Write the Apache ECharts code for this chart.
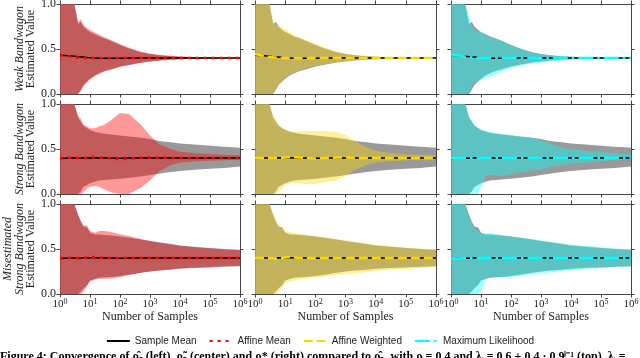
<!DOCTYPE html>
<html><head><meta charset="utf-8">
<script src="https://cdn.jsdelivr.net/npm/echarts@6/dist/echarts.min.js"></script>
<style>html,body{margin:0;padding:0;background:#fff}#c{width:640px;height:358px}</style>
</head><body><div id="c"></div>
<script>
// ---------- data ----------
const samples = [1, 2, 3, 4, 5, 6, 8, 10, 15, 20, 30, 50, 100, 200, 500, 1000, 2000, 5000, 10000, 30000, 100000, 300000, 1000000];
const xTickExponents = [0, 1, 2, 3, 4, 5, 6];
const yTicks = [0.0, 0.5, 1.0];
const rowLabels = [['Weak Bandwagon'], ['Strong Bandwagon'], ['Misestimated', 'Strong Bandwagon']];
const estimatorNames = ['Affine Mean', 'Affine Weighted', 'Maximum Likelihood'];

// sample mean (black) per row
const weakSampleMean   = [0.43, 0.425, 0.42, 0.415, 0.41, 0.41, 0.405, 0.402, 0.40, 0.398, 0.397, 0.397, 0.398, 0.399, 0.40, 0.40, 0.40, 0.40, 0.40, 0.40, 0.40, 0.40, 0.40];
const strongSampleMean = [0.395, 0.40, 0.40, 0.397, 0.40, 0.403, 0.40, 0.40, 0.404, 0.40, 0.40, 0.40, 0.398, 0.40, 0.40, 0.40, 0.40, 0.40, 0.40, 0.40, 0.40, 0.40, 0.40];
const misSampleMean    = [0.395, 0.40, 0.40, 0.398, 0.40, 0.402, 0.40, 0.402, 0.404, 0.40, 0.40, 0.40, 0.398, 0.40, 0.40, 0.40, 0.40, 0.40, 0.40, 0.40, 0.40, 0.40, 0.40];

// estimator means
const weakAffineMean     = [0.43, 0.42, 0.41, 0.405, 0.40, 0.40, 0.40, 0.40, 0.398, 0.397, 0.397, 0.398, 0.399, 0.40, 0.40, 0.40, 0.40, 0.40, 0.40, 0.40, 0.40, 0.40, 0.40];
const weakAffineWeighted = [0.444, 0.42, 0.412, 0.408, 0.405, 0.403, 0.40, 0.40, 0.398, 0.398, 0.398, 0.399, 0.40, 0.40, 0.40, 0.40, 0.40, 0.40, 0.40, 0.40, 0.40, 0.40, 0.40];
const weakMaxLik         = [0.44, 0.425, 0.415, 0.41, 0.405, 0.402, 0.40, 0.40, 0.399, 0.399, 0.40, 0.40, 0.40, 0.40, 0.40, 0.40, 0.40, 0.40, 0.40, 0.40, 0.40, 0.40, 0.40];
const strongAffineMean     = [0.396, 0.404, 0.404, 0.40, 0.40, 0.396, 0.40, 0.408, 0.41, 0.407, 0.40, 0.396, 0.385, 0.392, 0.405, 0.407, 0.404, 0.40, 0.40, 0.40, 0.40, 0.40, 0.40];
const strongAffineWeighted = [0.40, 0.40, 0.40, 0.40, 0.40, 0.40, 0.402, 0.405, 0.41, 0.408, 0.405, 0.40, 0.395, 0.40, 0.405, 0.405, 0.40, 0.40, 0.40, 0.40, 0.40, 0.40, 0.40];
const strongMaxLik         = [0.40, 0.40, 0.40, 0.40, 0.40, 0.40, 0.40, 0.40, 0.40, 0.40, 0.40, 0.40, 0.40, 0.40, 0.40, 0.40, 0.40, 0.40, 0.40, 0.40, 0.40, 0.40, 0.40];
const misAffineMean     = [0.40, 0.40, 0.40, 0.398, 0.398, 0.40, 0.405, 0.41, 0.41, 0.408, 0.40, 0.40, 0.398, 0.40, 0.40, 0.40, 0.40, 0.40, 0.40, 0.40, 0.40, 0.40, 0.40];
const misAffineWeighted = [0.40, 0.40, 0.40, 0.398, 0.395, 0.396, 0.40, 0.408, 0.41, 0.405, 0.40, 0.40, 0.398, 0.40, 0.40, 0.40, 0.40, 0.40, 0.40, 0.40, 0.40, 0.40, 0.40];
const misMaxLik         = [0.395, 0.398, 0.40, 0.40, 0.40, 0.40, 0.40, 0.40, 0.402, 0.40, 0.40, 0.40, 0.40, 0.40, 0.40, 0.40, 0.40, 0.40, 0.40, 0.40, 0.40, 0.40, 0.40];

// sample-mean (gray) bands per row
const weakGrayHigh   = [1, 1, 1, 0.78, 0.80, 0.75, 0.71, 0.69, 0.66, 0.64, 0.62, 0.59, 0.545, 0.505, 0.465, 0.445, 0.43, 0.42, 0.415, 0.408, 0.405, 0.402, 0.401];
const weakGrayLow    = [0, 0, 0, 0, 0.05, 0.10, 0.14, 0.17, 0.21, 0.23, 0.255, 0.275, 0.305, 0.325, 0.35, 0.362, 0.372, 0.382, 0.387, 0.392, 0.395, 0.398, 0.399];
const strongGrayHigh = [1, 1, 1, 0.85, 0.80, 0.76, 0.73, 0.71, 0.69, 0.68, 0.67, 0.66, 0.65, 0.64, 0.625, 0.61, 0.59, 0.575, 0.56, 0.55, 0.535, 0.525, 0.515];
const strongGrayLow  = [0, 0, 0, 0, 0.03, 0.08, 0.10, 0.12, 0.14, 0.15, 0.155, 0.16, 0.17, 0.18, 0.195, 0.21, 0.225, 0.245, 0.255, 0.27, 0.28, 0.29, 0.305];
const misGrayHigh    = [1, 1, 1, 0.88, 0.80, 0.75, 0.74, 0.68, 0.66, 0.66, 0.655, 0.65, 0.64, 0.625, 0.605, 0.59, 0.575, 0.555, 0.54, 0.525, 0.51, 0.50, 0.492];
const misGrayLow     = [0, 0, 0, 0, 0.03, 0.06, 0.10, 0.15, 0.17, 0.18, 0.185, 0.19, 0.20, 0.215, 0.235, 0.25, 0.26, 0.27, 0.28, 0.29, 0.295, 0.302, 0.308];

// estimator bands
const weakAmHigh = [1, 1, 1, 0.80, 0.83, 0.77, 0.73, 0.71, 0.68, 0.66, 0.63, 0.60, 0.555, 0.515, 0.47, 0.45, 0.435, 0.425, 0.418, 0.41, 0.406, 0.403, 0.402];
const weakAmLow  = [0, 0, 0, 0, 0.03, 0.08, 0.13, 0.16, 0.20, 0.22, 0.25, 0.27, 0.30, 0.32, 0.345, 0.36, 0.37, 0.38, 0.385, 0.39, 0.394, 0.397, 0.398];
const weakAwHigh = [1, 1, 1, 0.80, 0.77, 0.76, 0.74, 0.72, 0.68, 0.655, 0.63, 0.60, 0.56, 0.52, 0.475, 0.45, 0.435, 0.422, 0.415, 0.408, 0.404, 0.402, 0.401];
const weakAwLow  = [0, 0, 0, 0, 0.06, 0.10, 0.14, 0.18, 0.22, 0.24, 0.26, 0.285, 0.315, 0.33, 0.35, 0.362, 0.372, 0.382, 0.387, 0.392, 0.395, 0.398, 0.399];
const weakMlHigh = [1, 1, 1, 0.86, 0.75, 0.71, 0.70, 0.69, 0.65, 0.63, 0.615, 0.595, 0.54, 0.505, 0.46, 0.44, 0.43, 0.42, 0.413, 0.407, 0.404, 0.402, 0.401];
const weakMlLow  = [0, 0, 0, 0, 0.10, 0.12, 0.14, 0.155, 0.18, 0.19, 0.22, 0.25, 0.29, 0.315, 0.335, 0.345, 0.36, 0.375, 0.383, 0.39, 0.394, 0.397, 0.399];
const strongAmHigh = [1, 1, 1, 0.87, 0.83, 0.77, 0.75, 0.73, 0.73, 0.75, 0.77, 0.82, 0.90, 0.89, 0.77, 0.65, 0.555, 0.50, 0.47, 0.455, 0.445, 0.437, 0.43];
const strongAmLow  = [0, 0, 0, 0, 0, 0.02, 0.06, 0.08, 0.09, 0.08, 0.05, 0.02, 0, 0, 0.07, 0.15, 0.25, 0.32, 0.35, 0.36, 0.37, 0.375, 0.38];
const strongAwHigh = [1, 1, 1, 0.86, 0.83, 0.76, 0.73, 0.72, 0.70, 0.695, 0.695, 0.70, 0.70, 0.70, 0.69, 0.655, 0.59, 0.52, 0.48, 0.455, 0.44, 0.435, 0.43];
const strongAwLow  = [0, 0, 0, 0, 0, 0.02, 0.06, 0.10, 0.12, 0.12, 0.12, 0.11, 0.11, 0.13, 0.15, 0.20, 0.27, 0.32, 0.35, 0.365, 0.375, 0.38, 0.385];
const strongMlHigh = [1, 1, 1, 0.86, 0.81, 0.77, 0.735, 0.715, 0.70, 0.69, 0.68, 0.67, 0.655, 0.64, 0.625, 0.60, 0.56, 0.52, 0.50, 0.48, 0.465, 0.452, 0.442];
const strongMlLow  = [0, 0, 0, 0, 0, 0, 0, 0.08, 0.20, 0.21, 0.205, 0.20, 0.22, 0.24, 0.26, 0.27, 0.30, 0.32, 0.34, 0.35, 0.365, 0.38, 0.39];
const misAmHigh = [1, 1, 1, 0.88, 0.81, 0.76, 0.76, 0.70, 0.68, 0.70, 0.70, 0.69, 0.665, 0.645, 0.61, 0.59, 0.57, 0.55, 0.535, 0.52, 0.505, 0.495, 0.485];
const misAmLow  = [0, 0, 0, 0, 0, 0.02, 0.09, 0.14, 0.16, 0.17, 0.17, 0.17, 0.19, 0.21, 0.235, 0.25, 0.26, 0.275, 0.285, 0.295, 0.30, 0.31, 0.315];
const misAwHigh = [1, 1, 1, 0.88, 0.81, 0.76, 0.74, 0.70, 0.69, 0.68, 0.67, 0.66, 0.645, 0.63, 0.61, 0.595, 0.58, 0.562, 0.548, 0.533, 0.518, 0.505, 0.495];
const misAwLow  = [0, 0, 0, 0, 0, 0.02, 0.07, 0.12, 0.14, 0.15, 0.16, 0.17, 0.18, 0.195, 0.21, 0.22, 0.23, 0.245, 0.255, 0.27, 0.28, 0.29, 0.30];
const misMlHigh = [1, 1, 1, 0.86, 0.79, 0.73, 0.70, 0.67, 0.67, 0.68, 0.67, 0.655, 0.64, 0.625, 0.61, 0.595, 0.58, 0.563, 0.548, 0.535, 0.52, 0.505, 0.493];
const misMlLow  = [0, 0, 0, 0, 0, 0, 0, 0.03, 0.18, 0.18, 0.185, 0.19, 0.19, 0.20, 0.22, 0.23, 0.24, 0.255, 0.265, 0.28, 0.29, 0.30, 0.306];

// ---------- layout / styles ----------
const gridLefts = [60, 255, 451];
const gridWidths = [180, 181, 180];
const gridTops = [4, 104, 204];
const gridH = 90;
const estColors = ['#ff0000', '#ffd700', '#00ffff'];
const estBand = ['rgba(255,0,0,0.4)', 'rgba(255,215,0,0.4)', 'rgba(0,255,255,0.4)'];
const estDash = [[3, 5], [9, 4], [15, 4, 2.5, 4]];
const grayBand = 'rgba(128,128,128,0.8)';
const SERIF = '"Liberation Serif", "DejaVu Serif", serif';
const axisColor = '#444';

const rows = [
  {mean: weakSampleMean, gHi: weakGrayHigh, gLo: weakGrayLow,
   est: [[weakAffineMean, weakAmHigh, weakAmLow], [weakAffineWeighted, weakAwHigh, weakAwLow], [weakMaxLik, weakMlHigh, weakMlLow]]},
  {mean: strongSampleMean, gHi: strongGrayHigh, gLo: strongGrayLow,
   est: [[strongAffineMean, strongAmHigh, strongAmLow], [strongAffineWeighted, strongAwHigh, strongAwLow], [strongMaxLik, strongMlHigh, strongMlLow]]},
  {mean: misSampleMean, gHi: misGrayHigh, gLo: misGrayLow,
   est: [[misAffineMean, misAmHigh, misAmLow], [misAffineWeighted, misAwHigh, misAwLow], [misMaxLik, misMlHigh, misMlLow]]}
];

const grid = [], xAxis = [], yAxis = [], series = [];

function pairs(arr) { return samples.map((x, i) => [x, arr[i]]); }

function addBand(p, hi, lo, color) {
  series.push({type: 'custom', xAxisIndex: 2 * p, yAxisIndex: 2 * p, silent: true, z: 1, clip: true,
    data: samples.map((x, i) => [x, lo[i], hi[i]]),
    encode: {x: 0, y: [1, 2]},
    renderItem: function (params, api) {
      if (params.dataIndexInside !== 0) return null;
      const n = params.dataInsideLength;
      const top = [], bot = [];
      for (let i = 0; i < n; i++) {
        top.push(api.coord([api.value(0, i), api.value(2, i)]));
        bot.push(api.coord([api.value(0, i), api.value(1, i)]));
      }
      return {type: 'polygon', shape: {points: top.concat(bot.reverse())}, style: {fill: color, stroke: null}};
    }});
}

for (let r = 0; r < 3; r++) {
  for (let c = 0; c < 3; c++) {
    const p = r * 3 + c;
    grid.push({left: gridLefts[c], top: gridTops[r], width: gridWidths[c], height: gridH, outerBoundsMode: 'none'});
    const xCommon = {type: 'log', logBase: 10, min: 1, max: 1e6, splitNumber: 6, gridIndex: p,
      splitLine: {show: false}, minorTick: {show: false}, minorSplitLine: {show: false},
      axisLine: {show: true, onZero: false, lineStyle: {color: axisColor, width: 1}},
      axisTick: {show: true, inside: false, length: 3.5, lineStyle: {color: axisColor, width: 1}}};
    const showX = r === 2;
    xAxis.push(Object.assign({}, xCommon, {position: 'bottom',
      axisLabel: {show: showX, margin: 4, fontSize: 11, fontFamily: SERIF, color: '#222',
        formatter: v => '10{s|' + xTickExponents[Math.round(Math.log10(v))] + '}',
        rich: {s: {fontSize: 8, fontFamily: SERIF, color: '#222', verticalAlign: 'top', padding: [0, 0, 4, 0]}}},
      name: showX ? 'Number of Samples' : '', nameLocation: 'middle', nameGap: 17,
      nameTextStyle: {fontSize: 12, fontFamily: SERIF, color: '#222'}}));
    xAxis.push(Object.assign({}, xCommon, {position: 'top', axisLabel: {show: false}}));

    const yCommon = {type: 'value', min: 0, max: 1, interval: 0.5, gridIndex: p,
      splitLine: {show: false},
      axisLine: {show: true, onZero: false, lineStyle: {color: axisColor, width: 1}},
      axisTick: {show: true, inside: false, length: 3.5, lineStyle: {color: axisColor, width: 1}}};
    const showY = c === 0;
    const nm = rowLabels[r].map(s => '{i|' + s + '}').join('\n') + '\n{n|Estimated Value}';
    yAxis.push(Object.assign({}, yCommon, {position: 'left',
      axisLabel: {show: showY, margin: 4, fontSize: 12, fontFamily: SERIF, color: '#222',
        formatter: v => yTicks.find(t => Math.abs(t - v) < 1e-9).toFixed(1)},
      name: showY ? nm : '', nameLocation: 'middle', nameRotate: 90, nameGap: 22,
      nameTextStyle: {fontSize: 12, fontFamily: SERIF, color: '#222',
        rich: {i: {fontSize: 12, fontStyle: 'italic', fontFamily: SERIF, color: '#222', lineHeight: 11.5},
               n: {fontSize: 12, fontFamily: SERIF, color: '#222', lineHeight: 11.5}}}}));
    yAxis.push(Object.assign({}, yCommon, {position: 'right', axisLabel: {show: false}}));

    const R = rows[r];
    const [eMean, eHi, eLo] = R.est[c];
    addBand(p, R.gHi, R.gLo, grayBand);
    addBand(p, eHi, eLo, estBand[c]);
    series.push({type: 'line', name: 'Sample Mean', xAxisIndex: 2 * p, yAxisIndex: 2 * p, data: pairs(R.mean),
      symbol: 'none', lineStyle: {color: '#000', width: 1.5}, itemStyle: {color: 'rgba(0,0,0,0)', borderWidth: 0}, z: 3});
    series.push({type: 'line', name: estimatorNames[c], xAxisIndex: 2 * p, yAxisIndex: 2 * p, data: pairs(eMean),
      symbol: 'none', lineStyle: {color: estColors[c], width: 2.5, type: estDash[c], cap: 'butt'},
      itemStyle: {color: 'rgba(0,0,0,0)', borderWidth: 0}, z: 4});
  }
}

const chart = echarts.init(document.getElementById('c'), null, {renderer: 'canvas'});
chart.setOption({
  animation: false,
  backgroundColor: '#fff',
  grid, xAxis, yAxis, series,
  legend: {data: ['Sample Mean', 'Affine Mean', 'Affine Weighted', 'Maximum Likelihood'],
    top: 331, left: 'center', itemWidth: 23, itemHeight: 10, itemGap: 12,
    itemStyle: {color: 'rgba(0,0,0,0)', borderWidth: 0},
    textStyle: {fontFamily: '"Liberation Sans", sans-serif', fontSize: 10, color: '#222'}},
  graphic: [{type: 'text', left: 0, top: 351,
    style: {text: 'Figure 4: Convergence of ρ\u0302\u209b (left), ρ\u0303\u209b (center) and ρ* (right) compared to ρ\u0302\u209b, with ρ = 0.4 and λ\u1d62 = 0.6 + 0.4 · 0.9\u2071\u207b\u00b9 (top), λ\u1d62 =',
      font: 'bold 12px "Liberation Serif", serif', fill: '#000'}}]
});
</script>
</body></html>
